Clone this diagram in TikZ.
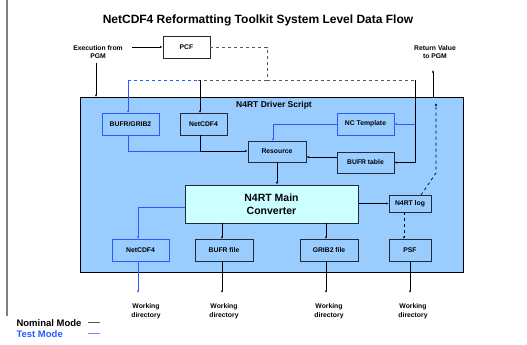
\documentclass[tikz,border=0pt]{standalone}
\usepackage{fontspec}
\setmainfont{Liberation Sans}
\usetikzlibrary{arrows.meta}
\definecolor{drvblue}{RGB}{153, 204, 255}
\definecolor{mainblue}{RGB}{204, 255, 255}
\definecolor{testblue}{RGB}{40, 90, 255}
\definecolor{boxgray}{RGB}{40, 40, 50}

\tikzset{
  box/.style={draw=boxgray,line width=0.9pt,inner sep=0pt,minimum height=22pt,font=\fontsize{6.8}{7}\selectfont\bfseries},
  testbox/.style={box,draw=testblue},
  txt/.style={align=center,font=\fontsize{6.8}{8.5}\selectfont\bfseries},
  flow/.style={line width=0.7pt,-{Latex[length=2.5pt,width=2.2pt]}},
  tflow/.style={flow,draw=testblue},
}

\begin{document}
\begin{tikzpicture}[x=1pt,y=-1pt]
\useasboundingbox (0,0) rectangle (527,345);
\draw[gray,line width=1.5pt] (7,0) -- (7,316);

% Title
\node[font=\fontsize{12}{14}\selectfont\bfseries] (title) at (258,20) {NetCDF4 Reformatting Toolkit System Level Data Flow};

% Outside
\node[txt] (exec) at (98,52) {Execution from\\PGM};
\node[box,minimum width=47pt] (pcf) at (186.5,47) {PCF};
\node[txt] (ret) at (435,52) {Return Value\\to PGM};
\coordinate (execr) at (132,47);
\coordinate (execd) at (96,63);
\coordinate (retd) at (433,97);
\coordinate (retu) at (433,70);

% Driver script
\node[draw=black,line width=0.9pt,fill=drvblue,minimum width=383pt,minimum height=175pt] (drv) at (271.5,184.5) {};
\node[txt,font=\fontsize{8.5}{10}\selectfont\bfseries] (drvlbl) at (274,105) {N4RT Driver Script};

% Inputs
\node[testbox,minimum width=57pt] (bufrgrib) at (130.5,124) {BUFR/GRIB2};
\node[box,minimum width=47pt] (ncin) at (203.5,124) {NetCDF4};
\node[testbox,minimum width=57pt] (nctmpl) at (365.5,124) {NC Template};
\node[box,minimum width=58pt,minimum height=21pt] (res) at (277,151.5) {Resource};
\node[box,minimum width=57pt,minimum height=21pt] (bufrtab) at (365.5,162.5) {BUFR table};

% Converter
\node[box,fill=mainblue,minimum width=173pt,minimum height=38pt,align=center,font=\fontsize{10.5}{13}\selectfont\bfseries] (main) at (271.5,204) {N4RT Main\\Converter};
\node[box,minimum width=42pt,minimum height=17pt] (log) at (410,203.5) {N4RT log};

% Outputs
\node[testbox,minimum width=57pt] (ncout) at (140.5,250) {NetCDF4};
\node[box,minimum width=58pt] (bufrout) at (224,250) {BUFR file};
\node[box,minimum width=58pt] (gribout) at (329,250) {GRIB2 file};
\node[box,minimum width=42pt] (psf) at (410,250) {PSF};

\foreach \n/\x/\lx in {1/138/146,2/222/224,3/326/329,4/410/413} {
  \coordinate (wd\n) at (\x,293);
  \node[txt] (wdl\n) at (\lx,311) {Working\\directory};
}

% Connections
\draw[flow] (execr) -- (pcf.west);
\draw[flow] (execd) -- (96,97);
\draw[flow] (retd) -- (retu);
\draw[line width=0.7pt,dashed,gray!70!black] (pcf.east) -- (267,47) -- (267,80) -- (197,80);
\draw[line width=0.7pt,dashed,gray!70!black] (267,80) -- (415,80);
\draw[line width=0.7pt,dashed,testblue] (197,80) -- (128,80);
\draw[tflow] (128,80) -- (128,113);
\draw[flow] (200,80) -- (200,113);
\draw[line width=0.7pt] (415,80) -- (415,162.5);
\draw[flow] (415,162.5) -- (bufrtab.east);
\draw[tflow] (415,124) -- (nctmpl.east);

\draw[line width=0.7pt,testblue] (128,135) -- (128,151) -- (200,151);
\draw[flow] (200,135) -- (200,151) -- (res.west |- 0,151);
\draw[tflow] (nctmpl.west) -- (273,124) -- (273,141);
\draw[flow] (bufrtab.west |- 0,157) -- (res.east |- 0,157);
\draw[flow] (res.south) -- (main.north -| res.south);

\draw[flow] (main.east |- log.west) -- (log.west);
\draw[tflow] (main.west |- 0,207) -- (138,207) -- (138,239);
\draw[flow] (222,223) -- (222,239);
\draw[flow] (326,223) -- (326,239);
\draw[flow,dashed] (404,212) -- (404,239);
\draw[flow,dashed] (421,195) -- (436,173) -- (436,103);

\draw[tflow] (138,261) -- (wd1);
\draw[flow] (222,261) -- (wd2);
\draw[flow] (326,261) -- (wd3);
\draw[flow] (410,261) -- (wd4);

% Legend
\node[anchor=west,font=\fontsize{9.5}{10}\selectfont\bfseries] (nom) at (13,323) {Nominal Mode};
\node[anchor=west,font=\fontsize{9.5}{10}\selectfont\bfseries,text=testblue] (tst) at (13,334) {Test Mode};
\coordinate (noma) at (88,322);
\coordinate (nomb) at (100,322);
\coordinate (tsta) at (88,333);
\coordinate (tstb) at (100,333);
\draw[line width=0.8pt,gray!70!black] (noma) -- (nomb);
\draw[line width=0.8pt,testblue!70] (tsta) -- (tstb);
\end{tikzpicture}
\end{document}
